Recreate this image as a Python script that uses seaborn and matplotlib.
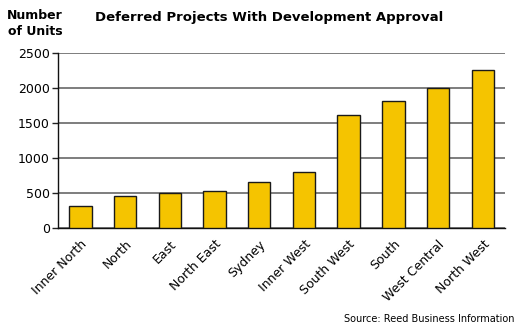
import matplotlib
matplotlib.use("Agg")
import matplotlib.pyplot as plt
import seaborn as sns
import pandas as pd
import numpy as np

regions = ["Inner North", "North", "East", "North East", "Sydney",
           "Inner West", "South West", "South", "West Central", "North West"]
units = [320, 450, 500, 530, 650, 800, 1620, 1820, 2000, 2250]
y_ticks = [0, 500, 1000, 1500, 2000, 2500]

df = pd.DataFrame({"region": regions, "units": units})

sns.set_style("white")
plt.rcParams["font.family"] = ["DejaVu Sans"]
plt.rcParams["text.color"] = "black"
plt.rcParams["xtick.color"] = "black"
plt.rcParams["ytick.color"] = "black"

fig = plt.figure(figsize=(5.17, 3.27), dpi=100)
ax = fig.add_axes([0.1122, 0.3028, 0.8648, 0.5352])

sns.barplot(data=df, x="region", y="units", color="#F5C400", width=0.5,
            edgecolor="#1a1a1a", linewidth=1.0, saturation=1, ax=ax, zorder=3)

ax.set_ylim(0, 2500)
ax.set_xlim(-0.5, len(regions) - 0.5)
ax.set_yticks(y_ticks)
ax.set_yticklabels([str(v) for v in y_ticks], fontsize=9)
ax.yaxis.grid(True, color="#5a5a5a", linewidth=1.1, zorder=0)
ax.set_axisbelow(True)

# category labels at bar centres, tick marks at category boundaries
ax.set_xticks(np.arange(len(regions)))
ax.set_xticklabels(regions, rotation=45, ha="right", rotation_mode="anchor", fontsize=9)
ax.tick_params(axis="x", which="major", length=0, pad=7)
ax.set_xticks(np.arange(-0.5, len(regions)), minor=True)
ax.tick_params(axis="x", which="minor", length=4, width=1, color="#222222", direction="out")
ax.tick_params(axis="y", length=4, width=1, color="#222222", direction="out", left=True, pad=2)

for side in ("top", "right"):
    ax.spines[side].set_visible(False)
for side in ("left", "bottom"):
    ax.spines[side].set_color("#111111")
    ax.spines[side].set_linewidth(1.0)

ax.set_xlabel("")
ax.set_ylabel("")

fig.text(0.068, 0.927, "Number\nof Units", ha="center", va="center",
         fontsize=9, fontweight="bold", linespacing=1.3)
fig.text(0.52, 0.947, "Deferred Projects With Development Approval", ha="center",
         va="center", fontsize=9.5, fontweight="bold")
fig.text(0.996, 0.025, "Source: Reed Business Information", ha="right", va="center",
         fontsize=7)

fig.savefig("out.png", dpi=100)
